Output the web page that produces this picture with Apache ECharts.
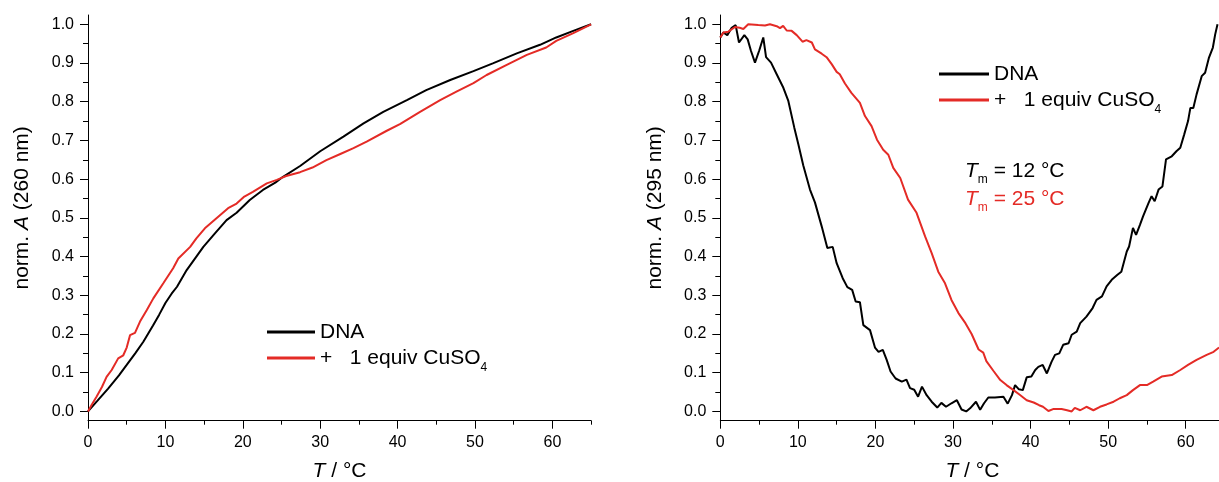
<!DOCTYPE html>
<html>
<head>
<meta charset="utf-8">
<script src="https://cdn.jsdelivr.net/npm/echarts@6/dist/echarts.min.js"></script>
<style>
  html, body { margin: 0; padding: 0; background: #fff; }
  #chart { width: 1219px; height: 482px; }
</style>
</head>
<body>
<div id="chart"></div>
<script>
// Tick positions
const X_MAJOR = [0, 10, 20, 30, 40, 50, 60];
const X_MINOR = [5, 15, 25, 35, 45, 55, 65];
const Y_MAJOR = [0, 0.1, 0.2, 0.3, 0.4, 0.5, 0.6, 0.7, 0.8, 0.9, 1.0];
const Y_MINOR = [0.05, 0.15, 0.25, 0.35, 0.45, 0.55, 0.65, 0.75, 0.85, 0.95];

const SERIES_NAMES = ['DNA', '+   1 equiv CuSO4'];

// Normalised absorbance at 260 nm vs temperature [T (°C), A]
const dna260 = [
  [0, 0], [1.2, 0.027], [2.6, 0.059], [4.0, 0.093], [5.0, 0.12], [6.1, 0.15], [7.15, 0.18],
  [8.4, 0.222], [9.2, 0.25], [10.0, 0.28], [10.8, 0.304], [11.5, 0.322], [12.75, 0.365], [14.0, 0.4], [14.9, 0.425],
  [16.4, 0.46], [17.9, 0.494], [19.2, 0.513], [20.9, 0.546], [22.6, 0.572], [24.2, 0.591],
  [25.2, 0.606], [27.4, 0.634], [30.0, 0.672], [33.0, 0.71], [35.6, 0.744], [38.15, 0.774],
  [41.2, 0.804], [43.7, 0.83], [46.8, 0.856], [49.8, 0.879], [52.3, 0.899], [55.4, 0.925],
  [58.4, 0.947], [60.5, 0.966], [62.7, 0.983], [65, 1.0]
];
const cuso260 = [
  [0, 0], [0.5, 0.018], [1.1, 0.038], [1.8, 0.063], [2.4, 0.089], [3.06, 0.107], [3.9, 0.137],
  [4.56, 0.145], [5.0, 0.165], [5.43, 0.197], [6.07, 0.203], [6.72, 0.232], [7.6, 0.262],
  [8.44, 0.292], [9.73, 0.331], [11.0, 0.37], [11.67, 0.395], [13.2, 0.425], [14.0, 0.447],
  [15.1, 0.473], [16.6, 0.499], [18.1, 0.525], [19.2, 0.537], [20.2, 0.555], [21.3, 0.567],
  [23.1, 0.589], [24.4, 0.598], [25.6, 0.608], [27.4, 0.618], [29.0, 0.63], [30.8, 0.649],
  [32.6, 0.665], [34.3, 0.68], [36.0, 0.697], [38.6, 0.725], [40.3, 0.742], [42.9, 0.774],
  [45.5, 0.804], [47.6, 0.826], [49.8, 0.848], [51.5, 0.869], [54.1, 0.895], [56.7, 0.921],
  [59.2, 0.94], [60.5, 0.957], [62.7, 0.977], [65, 1.0]
];

// Normalised absorbance at 295 nm vs temperature [T (°C), A]
const dna295 = [
  [0, 0.966], [0.39, 0.979], [0.9, 0.972], [1.47, 0.991], [1.98, 0.998], [2.41, 0.953],
  [3.1, 0.972], [3.53, 0.961], [3.96, 0.931], [4.47, 0.901], [5.03, 0.933], [5.54, 0.966],
  [5.9, 0.915], [6.54, 0.901], [7.27, 0.871], [8.13, 0.836], [8.77, 0.802], [9.54, 0.733],
  [10.06, 0.69], [10.7, 0.635], [11.56, 0.573], [12.2, 0.54], [13.07, 0.478], [13.8, 0.422],
  [14.49, 0.425], [15.0, 0.383], [15.78, 0.344], [16.38, 0.321], [17.0, 0.314], [17.45, 0.284],
  [18.0, 0.282], [18.44, 0.223], [19.3, 0.21], [19.94, 0.165], [20.4, 0.154], [20.95, 0.159],
  [21.45, 0.133], [21.95, 0.103], [22.6, 0.085], [23.4, 0.077], [24.0, 0.082], [24.46, 0.06],
  [25.0, 0.056], [25.5, 0.038], [26.0, 0.064], [26.6, 0.042], [27.25, 0.025], [27.97, 0.01],
  [28.5, 0.022], [29.1, 0.012], [29.8, 0.021], [30.5, 0.029], [31.1, 0.005], [31.7, 0.0],
  [32.2, 0.008], [32.96, 0.025], [33.5, 0.004], [34.0, 0.021], [34.55, 0.036], [35.4, 0.036],
  [36.5, 0.038], [37.05, 0.02], [37.6, 0.042], [38.0, 0.068], [38.5, 0.057], [39.0, 0.055],
  [39.5, 0.088], [40.1, 0.09], [40.6, 0.107], [41.0, 0.115], [41.56, 0.12], [42.1, 0.098],
  [42.7, 0.128], [43.15, 0.146], [43.7, 0.15], [44.2, 0.172], [44.9, 0.176], [45.3, 0.198],
  [45.95, 0.206], [46.4, 0.228], [47.2, 0.245], [48.0, 0.267], [48.5, 0.288], [49.2, 0.297],
  [49.8, 0.323], [50.46, 0.34], [51.2, 0.353], [51.7, 0.361], [52.4, 0.413], [52.7, 0.426],
  [53.2, 0.474], [53.6, 0.456], [54.1, 0.482], [54.5, 0.504], [55.2, 0.538], [55.6, 0.556],
  [56.0, 0.543], [56.5, 0.573], [57.0, 0.581], [57.46, 0.651], [58.2, 0.659], [58.8, 0.672],
  [59.3, 0.681], [59.8, 0.715], [60.3, 0.75], [60.6, 0.784], [60.98, 0.784], [61.4, 0.819],
  [62.06, 0.866], [62.5, 0.875], [63.0, 0.914], [63.5, 0.94], [63.8, 0.974], [64.1, 1.0]
];
const cuso295 = [
  [0, 0.966], [0.4, 0.979], [1.03, 0.981], [1.9, 0.993], [2.5, 0.991], [2.97, 0.988],
  [3.6, 1.0], [4.9, 0.998], [5.76, 0.997], [6.4, 1.0], [7.27, 0.995], [7.7, 0.99],
  [8.1, 0.996], [8.56, 0.984], [9.2, 0.983], [9.85, 0.972], [10.6, 0.955], [11.1, 0.959],
  [11.8, 0.953], [12.2, 0.935], [13.07, 0.924], [13.7, 0.915], [14.36, 0.897], [15.0, 0.877],
  [15.4, 0.871], [16.07, 0.847], [16.9, 0.823], [18.0, 0.797], [18.65, 0.763], [19.5, 0.737],
  [20.2, 0.702], [21.0, 0.676], [21.66, 0.663], [22.3, 0.629], [23.2, 0.603], [24.2, 0.547],
  [25.3, 0.513], [26.4, 0.452], [27.25, 0.409], [28.1, 0.361], [28.97, 0.331], [29.8, 0.288],
  [30.7, 0.254], [31.6, 0.228], [32.4, 0.2], [33.3, 0.16], [33.9, 0.152], [34.3, 0.13],
  [35.2, 0.105], [36.1, 0.081], [36.9, 0.068], [37.8, 0.055], [38.6, 0.043], [39.5, 0.029],
  [40.4, 0.023], [41.1, 0.016], [41.6, 0.012], [42.3, 0.001], [42.9, 0.006], [44.0, 0.006],
  [44.7, 0.003], [45.3, 0.0], [45.7, 0.009], [46.4, 0.003], [47.2, 0.012], [48.1, 0.003],
  [48.95, 0.012], [49.8, 0.018], [50.7, 0.025], [51.5, 0.034], [52.4, 0.042], [53.2, 0.055],
  [54.1, 0.068], [55.0, 0.068], [55.8, 0.077], [56.9, 0.09], [58.2, 0.094], [59.3, 0.107],
  [60.3, 0.12], [61.4, 0.133], [62.7, 0.146], [63.6, 0.154], [64.3, 0.165]
];

const FONT = '"Liberation Sans", Arial, Helvetica, sans-serif';
const BLACK = '#000000';
const RED = '#e42b26';
const TITLE_SIZE = 21;

function xAxisPair(gridIndex) {
  return [
    {
      type: 'value', gridIndex, min: 0, max: 65, position: 'bottom',
      axisLine: { show: true, onZero: false, lineStyle: { color: BLACK, width: 1 } },
      axisTick: { show: true, customValues: X_MAJOR, length: 8, lineStyle: { color: BLACK, width: 1 } },
      axisLabel: { show: true, customValues: X_MAJOR, margin: 14, fontSize: 16, color: BLACK, fontFamily: FONT },
      splitLine: { show: false },
      name: '{i|T}{n| / °C}', nameLocation: 'middle', nameGap: 40, nameMoveOverlap: false,
      nameTextStyle: {
        fontSize: TITLE_SIZE, color: BLACK, fontFamily: FONT,
        rich: {
          i: { fontSize: TITLE_SIZE, fontStyle: 'italic', fontFamily: FONT, color: BLACK },
          n: { fontSize: TITLE_SIZE, fontFamily: FONT, color: BLACK }
        }
      }
    },
    {
      type: 'value', gridIndex, min: 0, max: 65, position: 'bottom',
      axisLine: { show: false, onZero: false },
      axisTick: { show: true, customValues: X_MINOR, length: 4, lineStyle: { color: BLACK, width: 1 } },
      axisLabel: { show: false },
      splitLine: { show: false }
    }
  ];
}

function yAxisPair(gridIndex, wavelength) {
  return [
    {
      type: 'value', gridIndex, min: -0.024, max: 1.024, position: 'left',
      axisLine: { show: true, onZero: false, lineStyle: { color: BLACK, width: 1 } },
      axisTick: { show: true, customValues: Y_MAJOR, length: 8, lineStyle: { color: BLACK, width: 1 } },
      axisLabel: {
        show: true, customValues: Y_MAJOR, margin: 14, fontSize: 16, color: BLACK, fontFamily: FONT,
        formatter: v => Number(v).toFixed(1)
      },
      splitLine: { show: false },
      name: '{n|norm. }{i|A}{n| (' + wavelength + ' nm)}',
      nameLocation: 'middle', nameGap: 55, nameMoveOverlap: false,
      nameTextStyle: {
        fontSize: TITLE_SIZE, color: BLACK, fontFamily: FONT, padding: [0, 0, 0, 20],
        rich: {
          i: { fontSize: TITLE_SIZE, fontStyle: 'italic', fontFamily: FONT, color: BLACK },
          n: { fontSize: TITLE_SIZE, fontFamily: FONT, color: BLACK }
        }
      }
    },
    {
      type: 'value', gridIndex, min: -0.024, max: 1.024, position: 'left',
      axisLine: { show: false, onZero: false },
      axisTick: { show: true, customValues: Y_MINOR, length: 5, lineStyle: { color: BLACK, width: 1 } },
      axisLabel: { show: false },
      splitLine: { show: false }
    }
  ];
}

function lineSeries(name, data, color, axisIndex) {
  return {
    type: 'line', name, data, xAxisIndex: axisIndex, yAxisIndex: axisIndex,
    showSymbol: false, symbol: 'none', smooth: false, animation: false,
    color: color,
    itemStyle: { color: color },
    lineStyle: { color: color, width: 2 },
    emphasis: { disabled: true }
  };
}

const legendText = {
  fontSize: TITLE_SIZE, color: BLACK, fontFamily: FONT,
  rich: {
    a: { fontSize: TITLE_SIZE, lineHeight: 21, fontFamily: FONT, color: BLACK },
    s: { fontSize: 12, lineHeight: 12, padding: [19, 0, 0, 0], fontFamily: FONT, color: BLACK }
  }
};
const legendFormatter = name => name === 'DNA' ? '{a|DNA}' : '{a|+   1 equiv CuSO}{s|4}';

function legendAt(left, top, itemWidth) {
  return {
    data: SERIES_NAMES, orient: 'vertical', left, top, padding: 0,
    itemWidth, itemHeight: 3, itemGap: 0, icon: 'rect', selectedMode: false,
    formatter: legendFormatter, textStyle: legendText
  };
}

function tmLabel(y, text, color) {
  return {
    type: 'text', x: 965, y,
    style: {
      text, verticalAlign: 'middle', align: 'left',
      fill: color, font: TITLE_SIZE + 'px ' + FONT,
      rich: {
        i: { fontSize: TITLE_SIZE, fontStyle: 'italic', fontFamily: FONT, fill: color },
        s: { fontSize: 12, lineHeight: 12, padding: [18, 0, 0, 0], fontFamily: FONT, fill: color },
        r: { fontSize: TITLE_SIZE, lineHeight: 21, fontFamily: FONT, fill: color }
      }
    }
  };
}

const xa = [...xAxisPair(0), ...xAxisPair(1)];
const ya = [...yAxisPair(0, '260'), ...yAxisPair(1, '295')];

const chart = echarts.init(document.getElementById('chart'), null, { renderer: 'canvas' });
chart.setOption({
  backgroundColor: '#ffffff',
  animation: false,
  textStyle: { fontFamily: FONT },
  grid: [
    { left: 88, top: 15, width: 503.1, height: 405.7, outerBoundsMode: 'none', containLabel: false },
    { left: 720.3, top: 15, width: 504.2, height: 405.7, outerBoundsMode: 'none', containLabel: false }
  ],
  xAxis: xa,
  yAxis: ya,
  legend: [legendAt(267, 321.5, 48), legendAt(939, 63.5, 50)],
  series: [
    lineSeries(SERIES_NAMES[0], dna260, BLACK, 0),
    lineSeries(SERIES_NAMES[1], cuso260, RED, 0),
    lineSeries(SERIES_NAMES[0], dna295, BLACK, 2),
    lineSeries(SERIES_NAMES[1], cuso295, RED, 2)
  ],
  graphic: [
    tmLabel(171, '{i|T}{s|m}{r| = 12 °C}', BLACK),
    tmLabel(199, '{i|T}{s|m}{r| = 25 °C}', RED)
  ]
});
</script>
</body>
</html>
